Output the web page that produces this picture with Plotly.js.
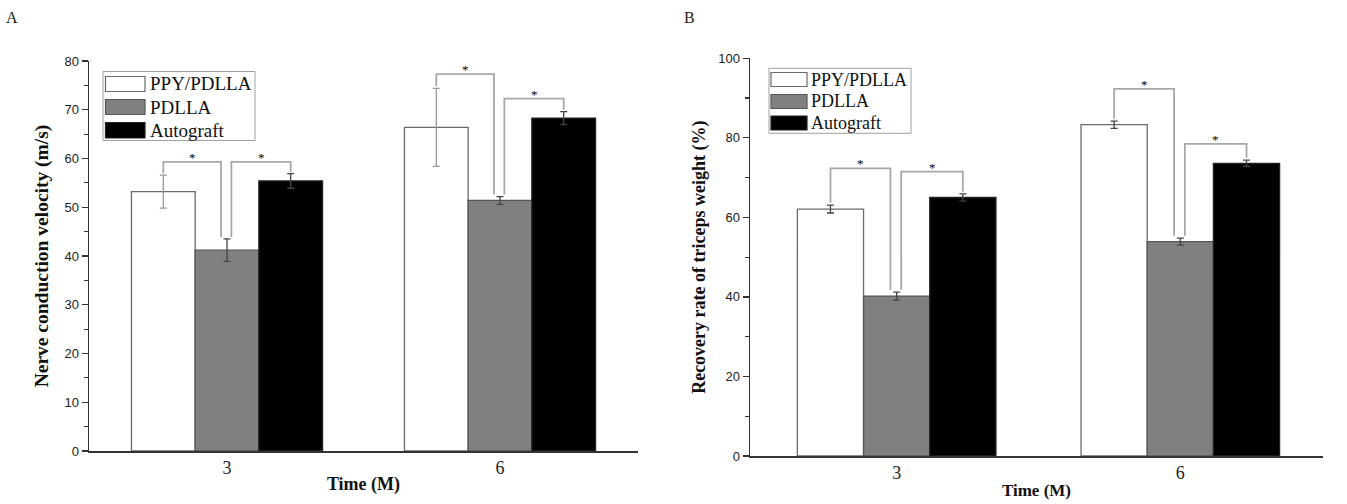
<!DOCTYPE html>
<html>
<head>
<meta charset="utf-8">
<script src="https://cdn.plot.ly/plotly-3.0.1.min.js"></script>
<style>html,body{margin:0;padding:0;background:#fff;}#chart{width:1347px;height:504px;}</style>
</head>
<body>
<div id="chart"></div>
<script>
// ---------- data ----------
const timePoints = ['3', '6'];
const seriesNames = ['PPY/PDLLA', 'PDLLA', 'Autograft'];

// Panel A: Nerve conduction velocity (m/s)
const velocityMean = {
  'PPY/PDLLA': [53.2, 66.4],
  'PDLLA':     [41.2, 51.4],
  'Autograft': [55.4, 68.3]
};
const velocityErr = {
  'PPY/PDLLA': [3.4, 8.0],
  'PDLLA':     [2.3, 0.8],
  'Autograft': [1.5, 1.3]
};

// Panel B: Recovery rate of triceps weight (%)
const recoveryMean = {
  'PPY/PDLLA': [62.1, 83.3],
  'PDLLA':     [40.2, 53.9],
  'Autograft': [65.0, 73.6]
};
const recoveryErr = {
  'PPY/PDLLA': [1.0, 0.9],
  'PDLLA':     [1.0, 0.9],
  'Autograft': [0.9, 0.8]
};

// significance brackets: [group index, left series, right series, bracket level]
const bracketsA = [[0, 0, 1, 59.3], [0, 1, 2, 59.3], [1, 0, 1, 77.3], [1, 1, 2, 72.3]];
const bracketsB = [[0, 0, 1, 72.3], [0, 1, 2, 71.5], [1, 0, 1, 92.3], [1, 1, 2, 78.5]];

// ---------- styling ----------
const W = 1347, H = 504;
const px = x => x / W;
const py = y => 1 - y / H;
const fills = ['#ffffff', '#808080', '#000000'];
const outlines = ['#6a6a6a', '#555555', '#222222'];
const serif = 'Liberation Serif, Times New Roman, serif';
const sans = 'Liberation Sans, Arial, sans-serif';
const BARGAP = 0.3;
const barW = (1 - BARGAP) / 3;
const idx = timePoints.map((t, i) => i);

const traces = [];
function addBars(means, errs, xa, ya, errColors) {
  seriesNames.forEach((name, s) => {
    traces.push({
      type: 'bar', name: name, x: idx, y: means[name],
      xaxis: xa, yaxis: ya, showlegend: false,
      marker: {color: fills[s], line: {color: outlines[s], width: 1.3}},
      error_y: {type: 'data', array: errs[name], visible: true,
                color: errColors[s], thickness: 1.3, width: 3.5},
      hoverinfo: 'y'
    });
  });
}
addBars(velocityMean, velocityErr, 'x', 'y', ['#9a9a9a', '#444444', '#444444']);
addBars(recoveryMean, recoveryErr, 'x2', 'y2', ['#444444', '#444444', '#444444']);

const shapes = [];
const annotations = [];

function addBrackets(list, means, errs, xa, ya, gap) {
  list.forEach(([g, a, b, level]) => {
    const na = seriesNames[a], nb = seriesNames[b];
    const xa0 = g + (a - 1) * barW + (a === 1 ? 0.016 : 0);
    const xb0 = g + (b - 1) * barW + (b === 1 ? -0.022 : 0);
    const ya0 = means[na][g] + errs[na][g] + gap;
    const yb0 = means[nb][g] + errs[nb][g] + gap;
    shapes.push({
      type: 'path', xref: xa, yref: ya,
      path: `M ${xa0} ${ya0} L ${xa0} ${level} L ${xb0} ${level} L ${xb0} ${yb0}`,
      line: {color: '#a8a8a8', width: 1.8}
    });
    annotations.push({
      xref: xa, yref: ya, x: (xa0 + xb0) / 2, y: level, text: '*',
      showarrow: false, yanchor: 'bottom', yshift: -5,
      font: {family: serif, size: 13, color: '#000000'}
    });
  });
}
addBrackets(bracketsA, velocityMean, velocityErr, 'x', 'y', 0.4);
addBrackets(bracketsB, recoveryMean, recoveryErr, 'x2', 'y2', 0.6);

// custom legends (boxes with swatches)
function addLegend(box, sw, rows, textX, fontSize) {
  shapes.push({type: 'rect', xref: 'paper', yref: 'paper',
    x0: px(box[0]), x1: px(box[1]), y0: py(box[3]), y1: py(box[2]),
    line: {color: '#a0a0a0', width: 1}, fillcolor: 'rgba(0,0,0,0)'});
  seriesNames.forEach((name, s) => {
    const [r0, r1] = rows[s];
    shapes.push({type: 'rect', xref: 'paper', yref: 'paper',
      x0: px(sw[0]), x1: px(sw[1]), y0: py(r1), y1: py(r0),
      line: {color: outlines[s], width: 1.2}, fillcolor: fills[s]});
    annotations.push({xref: 'paper', yref: 'paper', x: px(textX), y: py((r0 + r1) / 2),
      xanchor: 'left', yanchor: 'middle', text: name, showarrow: false,
      font: {family: serif, size: fontSize, color: '#111'}});
  });
}
addLegend([103, 255, 71.5, 140.5], [105.5, 145], [[76.5, 91.5], [99.5, 114.5], [122.5, 138]], 148, 19);
addLegend([769, 911, 68.3, 133.3], [771, 807], [[72.5, 86.5], [94.5, 108.5], [116, 130]], 809, 18);

// panel letters
annotations.push({xref: 'paper', yref: 'paper', x: px(12), y: py(18), text: 'A', showarrow: false,
  xanchor: 'center', yanchor: 'middle', font: {family: serif, size: 16, color: '#222'}});
annotations.push({xref: 'paper', yref: 'paper', x: px(689), y: py(18), text: 'B', showarrow: false,
  xanchor: 'center', yanchor: 'middle', font: {family: serif, size: 16, color: '#222'}});

const xBase = {
  tickmode: 'array', tickvals: idx, ticktext: timePoints, ticks: '',
  showline: true, linecolor: '#333', linewidth: 1.5, showgrid: false, zeroline: false,
  tickfont: {family: serif, size: 18, color: '#222'}, automargin: false, fixedrange: true
};
const yBase = {
  showline: true, linecolor: '#333', linewidth: 1.5, showgrid: false, zeroline: false,
  ticks: 'outside', ticklen: 6, tickwidth: 1.3, tickcolor: '#333',
  tickfont: {family: sans, size: 13, color: '#222'}, automargin: false, fixedrange: true
};

const layout = {
  width: W, height: H,
  margin: {l: 0, r: 0, t: 0, b: 0},
  paper_bgcolor: '#ffffff', plot_bgcolor: '#ffffff',
  barmode: 'group', bargap: BARGAP, bargroupgap: 0,
  showlegend: false,
  xaxis: Object.assign({}, xBase, {
    domain: [px(89), px(638)], range: [-0.5055, 1.5055], anchor: 'y',
    title: {text: '<b>Time (M)</b>', font: {family: serif, size: 18, color: '#111'}, standoff: 0}
  }),
  yaxis: Object.assign({}, yBase, {
    domain: [py(451), py(61)], range: [0, 80], dtick: 10, anchor: 'x',
    minor: {dtick: 5, ticks: 'outside', ticklen: 3.5, tickcolor: '#333', tickwidth: 1.2},
    title: {text: '<b>Nerve conduction velocity (m/s)</b>', font: {family: serif, size: 19.5, color: '#111'}, standoff: 10}
  }),
  xaxis2: Object.assign({}, xBase, {
    domain: [px(750), px(1323)], range: [-0.517, 1.503], anchor: 'y2',
    title: {text: '<b>Time (M)</b>', font: {family: serif, size: 17, color: '#111'}, standoff: 2}
  }),
  yaxis2: Object.assign({}, yBase, {
    domain: [py(456), py(58.3)], range: [0, 100], dtick: 20, anchor: 'x2',
    minor: {dtick: 10, ticks: 'outside', ticklen: 3.5, tickcolor: '#333', tickwidth: 1.2},
    title: {text: '<b>Recovery rate of triceps weight (%)</b>', font: {family: serif, size: 18, color: '#111'}, standoff: 8}
  }),
  shapes: shapes,
  annotations: annotations
};

Plotly.newPlot('chart', traces, layout, {displayModeBar: false, staticPlot: true});
</script>
</body>
</html>
